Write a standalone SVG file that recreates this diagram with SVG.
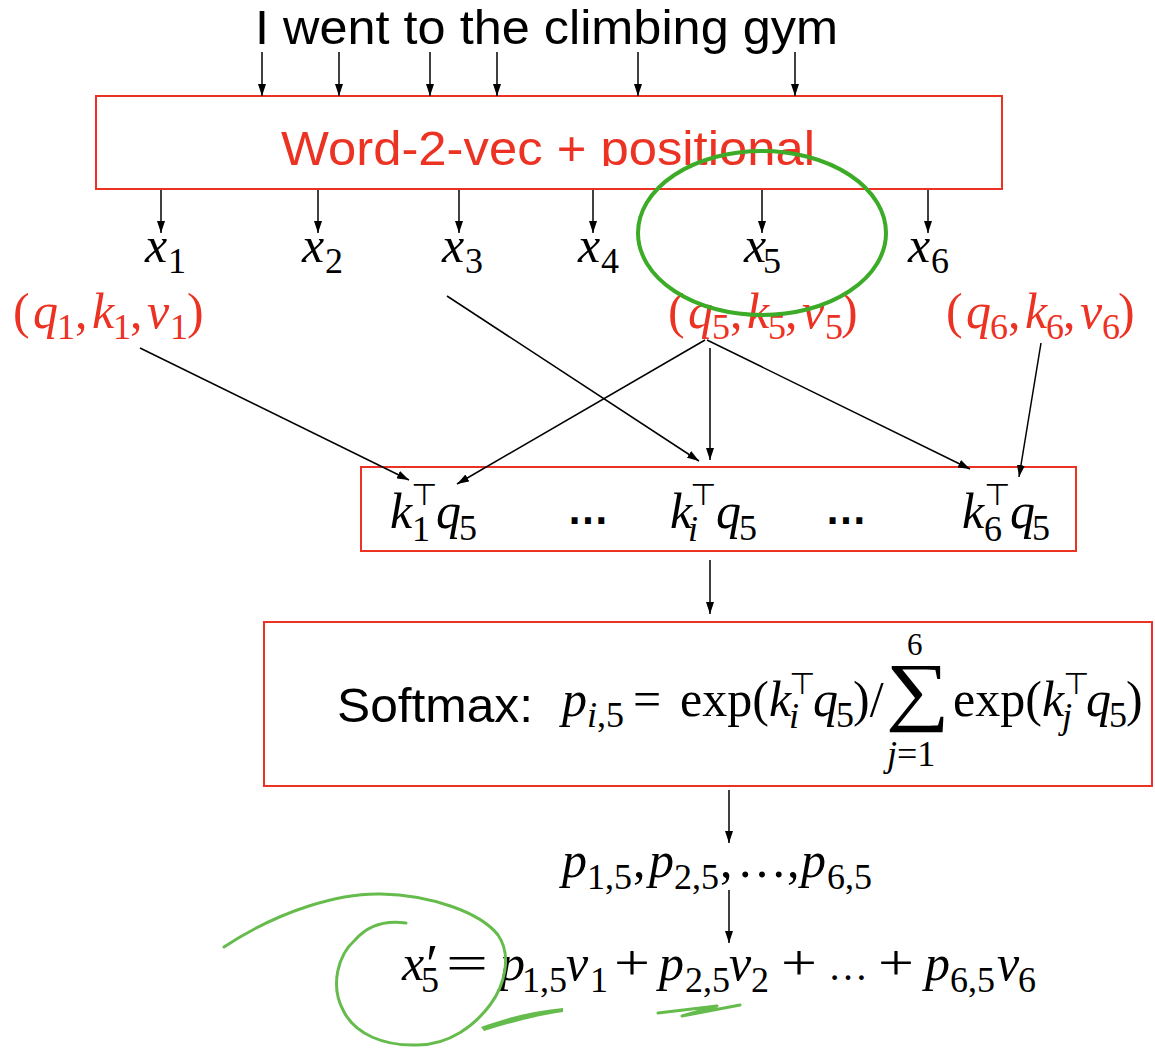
<svg xmlns="http://www.w3.org/2000/svg" width="1155" height="1050" viewBox="0 0 1155 1050">
<style>
.sans{font-family:"Liberation Sans",Arial,sans-serif;}
.m{font-family:"Liberation Serif","Times New Roman","DejaVu Serif",serif;font-size:50px;fill:#000;}
.i{font-style:italic;}
.s{font-size:36px;font-style:normal;}
.si{font-size:36px;font-style:italic;}
.red{fill:#ec3223;}
.box{fill:none;stroke:#ec3223;stroke-width:2;}
.c{stroke:#000;stroke-width:1.5;fill:none;marker-end:url(#ah);}
.tp{font-family:"DejaVu Sans",sans-serif;font-size:30px;font-style:normal;}
.g1{fill:none;stroke:#3cab27;stroke-width:4;}
.g2{fill:none;stroke:#65bc4c;stroke-width:3;stroke-linecap:round;stroke-linejoin:round;}
</style>
<defs>
<marker id="ah" markerUnits="userSpaceOnUse" markerWidth="12" markerHeight="8" refX="12" refY="4" orient="auto">
<path d="M0,0 L12,4 L0,8 z" fill="#000"/>
</marker>
<clipPath id="clipw"><rect x="97" y="97" width="904" height="69"/></clipPath>
</defs>
<rect width="1155" height="1050" fill="#fff"/>

<g id="title">
<text class="sans" x="255" y="44" font-size="49" textLength="583" lengthAdjust="spacingAndGlyphs">I went to the climbing gym</text>
</g>

<g id="embed">
<rect class="box" x="96" y="96" width="906" height="93"/>
<text class="sans red" clip-path="url(#clipw)" x="281" y="165" font-size="48" textLength="534" lengthAdjust="spacingAndGlyphs">Word-2-vec + positional</text>
</g>

<g id="xs">
<text class="m" y="262"><tspan class="i" x="145">x</tspan><tspan class="s" x="168" y="273">1</tspan></text>
<text class="m" y="262"><tspan class="i" x="302">x</tspan><tspan class="s" x="325" y="273">2</tspan></text>
<text class="m" y="262"><tspan class="i" x="442">x</tspan><tspan class="s" x="465" y="273">3</tspan></text>
<text class="m" y="262"><tspan class="i" x="578">x</tspan><tspan class="s" x="601" y="273">4</tspan></text>
<text class="m" y="262"><tspan class="i" x="744">x</tspan><tspan class="s" x="763" y="273">5</tspan></text>
<text class="m" y="262"><tspan class="i" x="908">x</tspan><tspan class="s" x="931" y="273">6</tspan></text>
</g>

<g id="qkv1">
<text class="m red" y="328"><tspan x="13">(</tspan><tspan class="i" x="33">q</tspan><tspan class="s" x="57" y="339">1</tspan><tspan x="75" y="328">,</tspan><tspan class="i" x="92">k</tspan><tspan class="s" x="113" y="339">1</tspan><tspan x="130" y="328">,</tspan><tspan class="i" x="147">v</tspan><tspan class="s" x="170" y="339">1</tspan><tspan x="187" y="328">)</tspan></text>
</g>
<g id="qkv5">
<text class="m red" y="328"><tspan x="668">(</tspan><tspan class="i" x="688">q</tspan><tspan class="s" x="712" y="339">5</tspan><tspan x="730" y="328">,</tspan><tspan class="i" x="747">k</tspan><tspan class="s" x="768" y="339">5</tspan><tspan x="785" y="328">,</tspan><tspan class="i" x="802">v</tspan><tspan class="s" x="825" y="339">5</tspan><tspan x="841" y="328">)</tspan></text>
</g>
<g id="qkv6">
<text class="m red" y="328"><tspan x="946">(</tspan><tspan class="i" x="966">q</tspan><tspan class="s" x="990" y="339">6</tspan><tspan x="1008" y="328">,</tspan><tspan class="i" x="1025">k</tspan><tspan class="s" x="1046" y="339">6</tspan><tspan x="1063" y="328">,</tspan><tspan class="i" x="1080">v</tspan><tspan class="s" x="1102" y="339">6</tspan><tspan x="1118" y="328">)</tspan></text>
</g>

<g id="scores">
<rect class="box" x="361" y="467" width="715" height="84"/>
<text class="m" y="528"><tspan class="i" x="390">k</tspan><tspan class="s" x="412" y="541">1</tspan><tspan class="tp" x="411" y="505">⊤</tspan><tspan class="i" x="436" y="528">q</tspan><tspan class="s" x="459" y="540">5</tspan></text>
<text class="sans" x="567" y="524" font-size="44" font-weight="bold" textLength="42" lengthAdjust="spacingAndGlyphs">…</text>
<text class="m" y="528"><tspan class="i" x="670">k</tspan><tspan class="si" x="688" y="541">i</tspan><tspan class="tp" x="690" y="505">⊤</tspan><tspan class="i" x="716" y="528">q</tspan><tspan class="s" x="739" y="540">5</tspan></text>
<text class="sans" x="825" y="524" font-size="44" font-weight="bold" textLength="42" lengthAdjust="spacingAndGlyphs">…</text>
<text class="m" y="528"><tspan class="i" x="962">k</tspan><tspan class="s" x="984" y="541">6</tspan><tspan class="tp" x="984" y="505">⊤</tspan><tspan class="i" x="1010" y="528">q</tspan><tspan class="s" x="1032" y="540">5</tspan></text>
</g>

<g id="softmax">
<rect class="box" x="264" y="622" width="888" height="164"/>
<text class="sans" x="337" y="722" font-size="48" textLength="196" lengthAdjust="spacingAndGlyphs">Softmax:</text>
<text class="m" y="716"><tspan class="i" x="562">p</tspan><tspan class="si" x="587" y="727">i</tspan><tspan class="s" x="597" y="727">,5</tspan><tspan x="633" y="716">=</tspan><tspan x="680">exp(</tspan><tspan class="i" x="769">k</tspan><tspan class="si" x="789" y="728">i</tspan><tspan class="tp" x="789" y="694">⊤</tspan><tspan class="i" x="813" y="716">q</tspan><tspan class="s" x="836" y="727">5</tspan><tspan x="853" y="716">)/</tspan></text>
<text class="m" transform="translate(886,715.5) scale(1.18,1)" x="0" y="0" style="font-size:76px">∑</text>
<text class="m" x="907" y="655" style="font-size:31px">6</text>
<text class="m" y="766"><tspan class="si" x="887">j</tspan><tspan class="s" x="897">=1</tspan></text>
<text class="m" y="716"><tspan x="953">exp(</tspan><tspan class="i" x="1042">k</tspan><tspan class="si" x="1062" y="728">j</tspan><tspan class="tp" x="1063" y="694">⊤</tspan><tspan class="i" x="1086" y="716">q</tspan><tspan class="s" x="1109" y="727">5</tspan><tspan x="1126" y="716">)</tspan></text>
</g>

<g id="probs">
<text class="m" y="877"><tspan class="i" x="562">p</tspan><tspan class="s" x="587" y="889">1,5</tspan><tspan x="633" y="877">,</tspan><tspan class="i" x="649">p</tspan><tspan class="s" x="674" y="889">2,5</tspan><tspan x="720" y="877">,</tspan><tspan x="737">…</tspan><tspan x="787">,</tspan><tspan class="i" x="801">p</tspan><tspan class="s" x="827" y="889">6,5</tspan></text>
</g>

<g id="output">
<text class="m" y="980"><tspan class="i" x="402">x</tspan><tspan x="426" y="984" font-size="56">′</tspan><tspan class="s" x="421" y="992">5</tspan></text>
<text class="m" x="446" y="980" textLength="42" lengthAdjust="spacingAndGlyphs">=</text>
<text class="m" y="980"><tspan class="i" x="500">p</tspan><tspan class="s" x="522" y="992">1,5</tspan><tspan class="i" x="566" y="980">v</tspan><tspan class="s" x="590" y="992">1</tspan></text>
<text class="m" x="614" y="980" textLength="36" lengthAdjust="spacingAndGlyphs">+</text>
<text class="m" y="980"><tspan class="i" x="659">p</tspan><tspan class="s" x="685" y="992">2,5</tspan><tspan class="i" x="729" y="980">v</tspan><tspan class="s" x="751" y="992">2</tspan></text>
<text class="m" x="781" y="980" textLength="36" lengthAdjust="spacingAndGlyphs">+</text>
<text class="m" x="828" y="980" style="font-size:40px">…</text>
<text class="m" x="878" y="980" textLength="36" lengthAdjust="spacingAndGlyphs">+</text>
<text class="m" y="980"><tspan class="i" x="925">p</tspan><tspan class="s" x="950" y="992">6,5</tspan><tspan class="i" x="997" y="980">v</tspan><tspan class="s" x="1018" y="992">6</tspan></text>
</g>

<g id="connectors">
<line class="c" x1="262" y1="52" x2="262" y2="96"/>
<line class="c" x1="339" y1="52" x2="339" y2="96"/>
<line class="c" x1="430" y1="52" x2="430" y2="96"/>
<line class="c" x1="497" y1="52" x2="497" y2="96"/>
<line class="c" x1="638" y1="52" x2="638" y2="96"/>
<line class="c" x1="795" y1="52" x2="795" y2="96"/>
<line class="c" x1="161" y1="190" x2="161" y2="233"/>
<line class="c" x1="318" y1="190" x2="318" y2="233"/>
<line class="c" x1="459" y1="190" x2="459" y2="233"/>
<line class="c" x1="593" y1="190" x2="593" y2="233"/>
<line class="c" x1="762" y1="190" x2="762" y2="233"/>
<line class="c" x1="928" y1="190" x2="928" y2="233"/>
<line class="c" x1="140" y1="348" x2="409" y2="480"/>
<line class="c" x1="447" y1="296" x2="699" y2="461"/>
<line class="c" x1="705" y1="340" x2="457" y2="484"/>
<line class="c" x1="710" y1="348" x2="710" y2="460"/>
<line class="c" x1="707" y1="340" x2="970" y2="469"/>
<line class="c" x1="1041" y1="343" x2="1019" y2="477"/>
<line class="c" x1="710" y1="560" x2="710" y2="614"/>
<line class="c" x1="729" y1="790" x2="729" y2="843"/>
<line class="c" x1="729" y1="890" x2="729" y2="943"/>
</g>

<g id="annotations">
<ellipse class="g1" cx="762" cy="233" rx="124" ry="82"/>
<path class="g2" d="M224,947 C280,910 340,893 381,894 C430,895 480,912 498,935 C512,955 505,985 490,1005 C475,1025 450,1045 417,1045 C385,1046 355,1035 343,1010 C330,985 338,955 355,940 C368,925 385,920 406,923"/>
<path fill="#65bc4c" d="M481,1027 C505,1018 532,1011 563,1008 L563,1012 C535,1016 510,1023 484,1031 Z"/>
<path class="g2" d="M658,1013 L717,1006 L682,1016 L740,1005"/>
</g>
</svg>
